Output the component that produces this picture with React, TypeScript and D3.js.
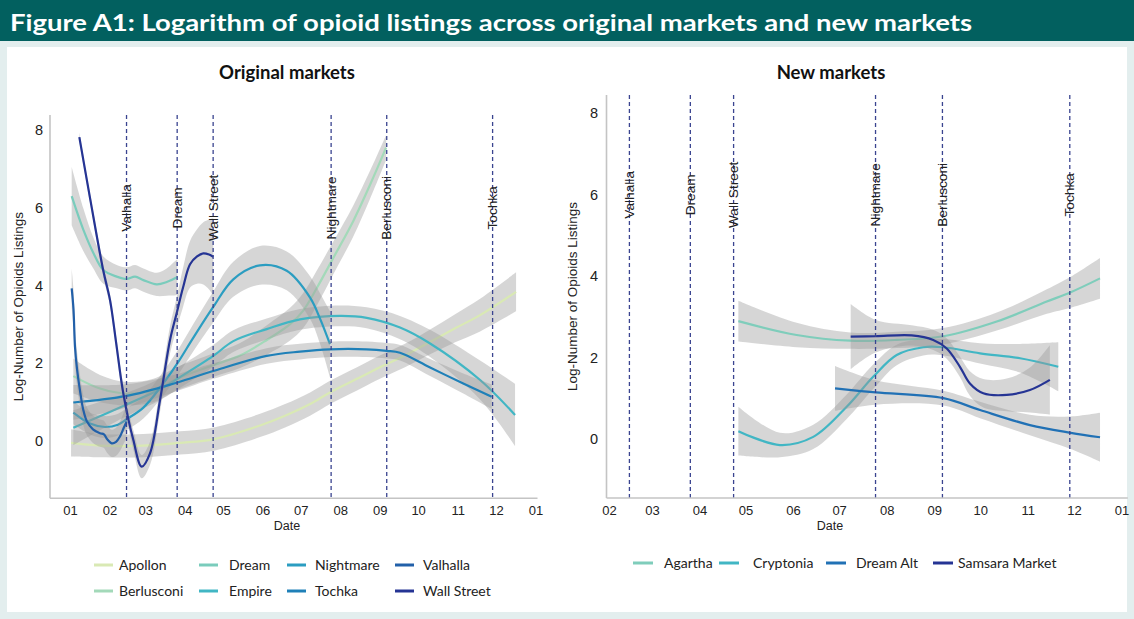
import React from "react";
import * as d3 from "d3";

// x values: days since 2019-01-01; y: log-number of listings; w: CI half-width
type P = [number, number, number];

const apollon: P[] = [[0.5,-0.05,0.35],[23.2,-0.12,0.3],[57,-0.12,0.3],[85.9,-0.05,0.3],[112.6,0.05,0.3],[148.7,0.4,0.3],[168.3,0.65,0.3],[187.9,0.95,0.3],[203.5,1.25,0.3],[224.7,1.6,0.3],[242.7,1.9,0.3],[262.3,2.2,0.3],[282,2.55,0.32],[301.6,2.9,0.36],[321.2,3.24,0.42],[349.4,3.84,0.5]];
const berlusconi: P[] = [[2.3,1.67,0.45],[23.2,1.35,0.35],[44.1,1.22,0.3],[65,1.3,0.3],[83.3,1.6,0.3],[112,1.95,0.3],[133,2.2,0.32],[154,2.6,0.38],[172,3.0,0.42],[182.4,3.35,0.45],[193.4,3.95,0.45],[205.9,4.7,0.42],[221.6,5.65,0.4],[235,6.6,0.36],[247.5,7.55,0.32]];
const dream: P[] = [[1,6.3,0.75],[10.1,5.44,0.55],[18,4.84,0.4],[25.8,4.4,0.35],[36.3,4.23,0.3],[44.1,4.17,0.3],[50.7,4.23,0.3],[57.2,4.14,0.3],[67.7,4.03,0.3],[75.5,4.09,0.35],[82.8,4.2,0.45],[83.8,4.22,0.45]];
const empire: P[] = [[2.3,0.34,0.45],[44.1,0.94,0.3],[70.3,1.33,0.28],[83.3,1.59,0.28],[112,2.19,0.28],[127.7,2.57,0.28],[153.9,2.88,0.27],[180,3.13,0.27],[211.4,3.22,0.27],[232.3,3.17,0.27],[258.4,2.92,0.3],[282,2.51,0.35],[321.2,1.57,0.5],[348.6,0.67,0.8]];
const nightmare: P[] = [[2.3,0.73,0.3],[15.4,0.45,0.28],[27.1,0.36,0.28],[37.3,0.42,0.28],[44.1,0.56,0.28],[57.2,0.86,0.28],[70.3,1.37,0.3],[83.3,1.97,0.32],[96.4,2.66,0.35],[112,3.45,0.4],[127.7,4.16,0.45],[148.6,4.52,0.5],[169.6,4.38,0.5],[187.9,3.69,0.55],[195.7,3.15,0.65],[203.5,2.49,0.85]];
const tochka: P[] = [[2.3,0.99,0.45],[44.1,1.16,0.3],[83.3,1.5,0.22],[112,1.8,0.2],[153.9,2.19,0.2],[180,2.3,0.2],[203.5,2.36,0.2],[232.3,2.36,0.2],[248,2.32,0.2],[258.4,2.27,0.2],[282,1.89,0.22],[308,1.48,0.26],[330.3,1.14,0.32]];
const valhalla: P[] = [[1,3.93,0.5],[2.4,3.4,0.5],[3.6,2.42,0.45],[5.2,1.85,0.45],[7.5,1.3,0.4],[10.1,0.8,0.38],[13,0.5,0.36],[17.7,0.3,0.35],[23.2,0.2,0.35],[26.3,0.17,0.35],[28.7,0.05,0.35],[32.4,-0.06,0.35],[35.8,-0.02,0.36],[38.9,0.12,0.38],[41.6,0.32,0.4],[44.1,0.5,0.42]];
const wallStreet: P[] = [[7,7.82,0.12],[15.4,6.25,0.12],[25.8,4.38,0.15],[31.1,3.62,0.15],[35.8,2.54,0.18],[41.5,1.22,0.2],[49.3,0.03,0.25],[55.9,-0.66,0.3],[62.4,-0.32,0.3],[70.3,1.06,0.3],[78.1,2.6,0.35],[83.3,3.29,0.4],[88.3,3.95,0.5],[93.8,4.55,0.6],[99.3,4.75,0.7],[104.2,4.83,0.8],[108.7,4.8,0.9],[112,4.74,1.0]];

const agartha: P[] = [[115,2.9,0.5],[153,2.56,0.3],[187.8,2.42,0.2],[218.2,2.44,0.2],[248.6,2.53,0.2],[283.4,2.89,0.22],[316,3.38,0.3],[331.6,3.61,0.38],[350.7,3.95,0.5]];
const cryptonia: P[] = [[115,0.2,0.6],[142.1,-0.14,0.3],[163.8,0.06,0.3],[185.6,0.8,0.3],[203,1.54,0.3],[218.2,2.07,0.25],[235.5,2.26,0.2],[248.6,2.26,0.2],[272.5,2.11,0.25],[298.6,1.99,0.35],[323.5,1.78,0.6]];
const dreamAlt: P[] = [[178,1.25,0.55],[204.5,1.15,0.3],[248.6,1.01,0.18],[272.5,0.72,0.2],[305,0.35,0.25],[331.6,0.16,0.4],[350.7,0.05,0.6]];
const samsara: P[] = [[188.2,2.52,0.8],[204.5,2.53,0.4],[228,2.55,0.25],[242,2.44,0.25],[250.8,2.23,0.25],[259.4,1.78,0.25],[265.9,1.37,0.3],[274.6,1.13,0.35],[289.9,1.09,0.4],[305,1.21,0.55],[318,1.46,0.85]];

const leftNames = ["Apollon", "Berlusconi", "Dream", "Empire", "Nightmare", "Tochka", "Valhalla", "Wall Street"];
const leftData = [apollon, berlusconi, dream, empire, nightmare, tochka, valhalla, wallStreet];
const leftColors = ["#d9e9b4", "#a3d9b9", "#7accbc", "#41b6c4", "#2b9dc1", "#1f80b8", "#2260a9", "#253494"];

const rightNames = ["Agartha", "Cryptonia", "Dream Alt", "Samsara Market"];
const rightData = [agartha, cryptonia, dreamAlt, samsara];
const rightColors = ["#7fcdbb", "#41b6c4", "#2171b5", "#253494"];

const eventNames = ["Valhalla", "Dream", "Wall Street", "Nightmare", "Berlusconi", "Tochka"];
const eventDays = [44, 83.7, 111.9, 204.4, 248, 331];

const yTicks = [0, 2, 4, 6, 8];

const day0 = Date.UTC(2019, 0, 1);
const toDate = (d: number) => new Date(day0 + d * 864e5);
const fmt = d3.utcFormat("%m");

const sans = "'Liberation Sans', Arial, sans-serif";
const lato = "Lato, 'Open Sans', sans-serif";

function Chart(props: {
  title: string; titleX: number; names: string[]; data: P[][]; colors: string[];
  x: d3.ScaleTime<number, number>; y: d3.ScaleLinear<number, number>;
  ticks: Date[]; ylabX: number; dateX: number; tickAnchorX: number;
}) {
  const { x, y } = props;
  const [x0, x1] = x.range();
  const [yb, yt] = y.range();
  const line = d3.line<P>().x(p => x(toDate(p[0]))).y(p => y(p[1])).curve(d3.curveCatmullRom.alpha(0.5));
  const area = d3.area<P>().x(p => x(toDate(p[0]))).y0(p => y(p[1] - p[2])).y1(p => y(p[1] + p[2])).curve(d3.curveCatmullRom.alpha(0.5));
  return (
    <g>
      <text x={props.titleX} y={79} textAnchor="middle" fontFamily={lato} fontWeight="bold" fontSize={18.5} fill="#111">{props.title}</text>
      {props.data.map((s, i) => (
        <g key={props.names[i]}>
          <path d={area(s) || ""} fill="#999999" fillOpacity={0.4} />
          <path d={line(s) || ""} fill="none" stroke={props.colors[i]} strokeWidth={2.2} />
        </g>
      ))}
      {eventDays.map((d, i) => (
        <line key={"e" + i} x1={x(toDate(d))} x2={x(toDate(d))} y1={yt} y2={yb} stroke="#3a4490" strokeWidth={1.3} strokeDasharray="4 3" />
      ))}
      {eventDays.map((d, i) => (
        <text key={"t" + i} transform={`translate(${x(toDate(d))},${y(6)}) rotate(-90)`} textAnchor="middle" dominantBaseline="central" fontFamily={sans} fontSize={13.7} fill="#222">{eventNames[i]}</text>
      ))}
      <line x1={x0} x2={x0} y1={yt} y2={yb} stroke="#c4c4c4" strokeWidth={1.6} />
      <line x1={x0} x2={x1} y1={yb} y2={yb} stroke="#c4c4c4" strokeWidth={1.6} />
      {yTicks.map(t => (
        <text key={"y" + t} x={props.tickAnchorX} y={y(t) + 5} textAnchor="end" fontFamily={sans} fontSize={14.5} fill="#222">{t}</text>
      ))}
      {props.ticks.map((t, i) => (
        <text key={"x" + i} x={x(t)} y={515} textAnchor="middle" fontFamily={sans} fontSize={13} fill="#222">{fmt(t)}</text>
      ))}
      <text x={props.dateX} y={530} textAnchor="middle" fontFamily={sans} fontSize={12.5} fill="#222">Date</text>
      <text transform={`translate(${props.ylabX},${(yt + yb) / 2}) rotate(-90)`} textAnchor="middle" dominantBaseline="central" fontFamily={sans} fontSize={13.5} fill="#222">Log-Number of Opioids Listings</text>
    </g>
  );
}

export default function App() {
  const xL = d3.scaleUtc().domain([toDate(-16), toDate(366.2)]).range([50, 537.5]);
  const yL = d3.scaleLinear().domain([-1.475, 8.39]).range([498.3, 115]);
  const xR = d3.scaleUtc().domain([toDate(29.07), toDate(368.8)]).range([606.5, 1127.8]);
  const yR = d3.scaleLinear().domain([-1.44, 8.45]).range([498, 95]);
  const ticksL = d3.utcMonth.range(toDate(0), toDate(366));
  const ticksR = d3.utcMonth.range(toDate(31), toDate(366));

  const legL = [94, 199, 287, 395];
  const legLT = [119, 229, 315, 423];
  const legR = [633, 719, 826, 933];
  const legRT = [664, 753, 856, 958];

  return (
    <svg width={1134} height={619} style={{ position: "absolute", left: 0, top: 0, display: "block" }}>
      <rect x={0} y={0} width={1134} height={619} fill="#e3eeee" />
      <rect x={0} y={0} width={1134} height={41} fill="#02605f" />
      <text x={10} y={31} fill="#fff" fontFamily={lato} fontWeight="bold" fontSize={22.5} textLength={962} lengthAdjust="spacingAndGlyphs">Figure A1: Logarithm of opioid listings across original markets and new markets</text>
      <rect x={7} y={47} width={1120} height={565} fill="#ffffff" />
      <Chart title="Original markets" titleX={287} names={leftNames} data={leftData} colors={leftColors}
        x={xL} y={yL} ticks={ticksL} ylabX={18} dateX={287} tickAnchorX={43} />
      <Chart title="New markets" titleX={831} names={rightNames} data={rightData} colors={rightColors}
        x={xR} y={yR} ticks={ticksR} ylabX={572} dateX={830} tickAnchorX={598} />
      {leftNames.map((n, i) => {
        const c = Math.floor(i / 2), r = i % 2;
        const yy = r === 0 ? 565 : 591;
        return (
          <g key={"ll" + n}>
            <line x1={legL[c]} x2={legL[c] + 19} y1={yy} y2={yy} stroke={leftColors[i]} strokeWidth={3} />
            <text x={legLT[c]} y={yy + 5} fontFamily={lato} fontSize={14} fill="#222">{n}</text>
          </g>
        );
      })}
      {rightNames.map((n, i) => (
        <g key={"rl" + n}>
          <line x1={legR[i]} x2={legR[i] + 20} y1={563} y2={563} stroke={rightColors[i]} strokeWidth={3} />
          <text x={legRT[i]} y={568} fontFamily={lato} fontSize={14} fill="#222">{n}</text>
        </g>
      ))}
    </svg>
  );
}
